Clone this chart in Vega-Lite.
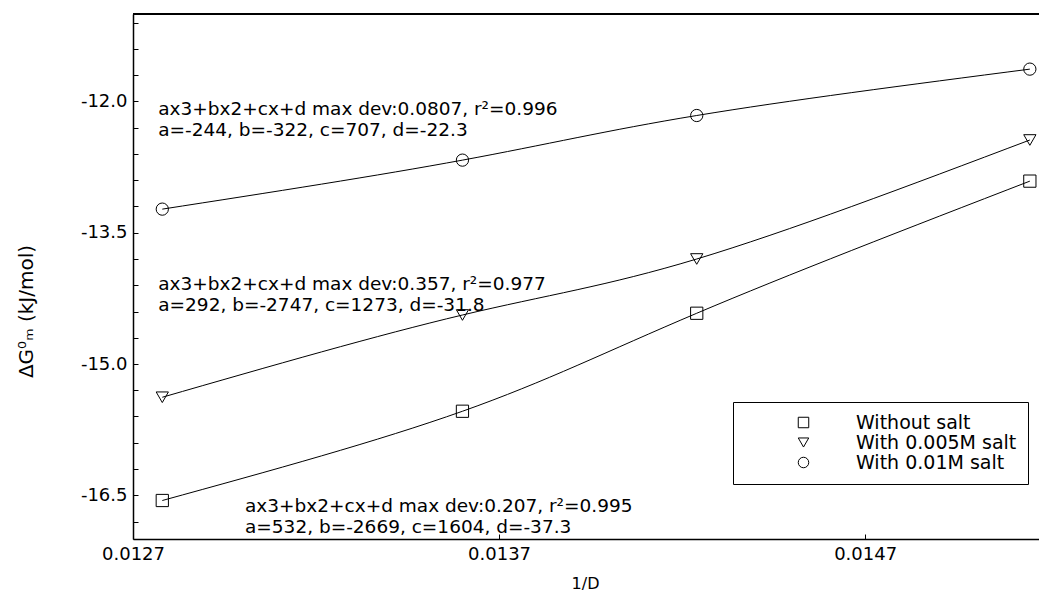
{
  "$schema": "https://vega.github.io/schema/vega-lite/v6.json",
  "width": 906,
  "height": 525,
  "autosize": "none",
  "padding": {"left": 133, "top": 14, "right": 0, "bottom": 60},
  "background": "white",
  "config": {
    "font": "DejaVu Sans",
    "view": {"stroke": null},
    "axis": {"grid": false, "labelOverlap": false, "domainColor": "black", "domainWidth": 1.5, "tickColor": "black", "tickWidth": 1, "labelColor": "black", "titleColor": "black", "labelFont": "DejaVu Sans", "titleFont": "DejaVu Sans", "titleFontWeight": "normal"}
  },
  "resolve": {"axis": {"y": "independent"}},
  "datasets": {
    "pts": [
      {"x": 0.01278, "y": -16.56, "series": "Without salt"},
      {"x": 0.01360, "y": -15.54, "series": "Without salt"},
      {"x": 0.01424, "y": -14.42, "series": "Without salt"},
      {"x": 0.01515, "y": -12.91, "series": "Without salt"},
      {"x": 0.01278, "y": -15.38, "series": "With 0.005M salt"},
      {"x": 0.01360, "y": -14.44, "series": "With 0.005M salt"},
      {"x": 0.01424, "y": -13.80, "series": "With 0.005M salt"},
      {"x": 0.01515, "y": -12.44, "series": "With 0.005M salt"},
      {"x": 0.01278, "y": -13.23, "series": "With 0.01M salt"},
      {"x": 0.01360, "y": -12.67, "series": "With 0.01M salt"},
      {"x": 0.01424, "y": -12.16, "series": "With 0.01M salt"},
      {"x": 0.01515, "y": -11.63, "series": "With 0.01M salt"}
    ],
    "notes": [
      {"x": 0.012769, "y": -12.09, "label": "ax3+bx2+cx+d max dev:0.0807, r²=0.996"},
      {"x": 0.012769, "y": -12.33, "label": "a=-244, b=-322, c=707, d=-22.3"},
      {"x": 0.012769, "y": -14.085, "label": "ax3+bx2+cx+d max dev:0.357, r²=0.977"},
      {"x": 0.012769, "y": -14.325, "label": "a=292, b=-2747, c=1273, d=-31.8"},
      {"x": 0.013006, "y": -16.62, "label": "ax3+bx2+cx+d max dev:0.207, r²=0.995"},
      {"x": 0.013006, "y": -16.86, "label": "a=532, b=-2669, c=1604, d=-37.3"}
    ]
  },
  "layer": [
    {
      "data": {"name": "pts"},
      "mark": {"type": "rule", "color": "black", "strokeWidth": 1.5},
      "encoding": {"y": {"datum": -11, "type": "quantitative", "scale": {"domain": [-17, -11], "nice": false, "zero": false},
        "axis": {"orient": "left", "values": [-16.8, -16.2, -15.9, -15.6, -15.3, -14.7, -14.4, -14.1, -13.8, -13.2, -12.9, -12.6, -12.3, -11.7, -11.4, -11.1], "labels": false, "domain": false, "title": null, "tickSize": -5}}}
    },
    {
      "data": {"name": "pts"},
      "mark": {"type": "line", "interpolate": "natural", "color": "black", "strokeWidth": 1},
      "encoding": {
        "x": {"field": "x", "type": "quantitative", "scale": {"domain": [0.0127, 0.015175], "nice": false, "zero": false},
          "axis": {"values": [0.0127, 0.0137, 0.0147], "format": ".4f", "tickSize": -5, "labelPadding": 11, "labelFontSize": 18, "labelFlush": false, "labelOverlap": false, "title": "1/D", "titleFontSize": 16, "titleX": 452, "titleY": 44, "titleBaseline": "middle", "titleAnchor": null}},
        "y": {"field": "y", "type": "quantitative",
          "axis": {"orient": "left", "values": [-16.5, -15.0, -13.5, -12.0],
            "labelExpr": "'-' + format(abs(datum.value), '.1f')",
            "labelOverlap": false, "labelFlush": false,
            "tickSize": -5, "labelPadding": 11, "labelFontSize": 18,
            "title": "ΔG⁰ₘ (kJ/mol)", "titleFontSize": 20, "titleX": -107, "titleY": 297, "titleAngle": -90, "titleAlign": "center", "titleBaseline": "middle"}},
        "detail": {"field": "series"}
      }
    },
    {
      "data": {"name": "pts"},
      "mark": {"type": "point", "filled": false, "color": "black", "strokeWidth": 1, "size": 150, "opacity": 1},
      "encoding": {
        "x": {"field": "x", "type": "quantitative"},
        "y": {"field": "y", "type": "quantitative", "axis": null},
        "shape": {"field": "series", "type": "nominal",
          "scale": {"domain": ["Without salt", "With 0.005M salt", "With 0.01M salt"], "range": ["square", "triangle-down", "circle"]},
          "legend": {"title": null, "orient": "none", "legendX": 600, "legendY": 388, "strokeColor": "black", "fillColor": "white", "padding": 11, "symbolOffset": 50, "labelOffset": 43, "labelFontSize": 19, "labelLimit": 400, "labelFont": "DejaVu Sans", "labelColor": "black", "rowPadding": 0, "symbolSize": 110, "symbolStrokeColor": "black", "symbolStrokeWidth": 1, "symbolFillColor": "transparent", "symbolType": "circle"}
        }
      }
    },
    {
      "data": {"name": "notes"},
      "mark": {"type": "text", "align": "left", "baseline": "middle", "fontSize": 18.5, "font": "DejaVu Sans", "color": "black"},
      "encoding": {
        "x": {"field": "x", "type": "quantitative"},
        "y": {"field": "y", "type": "quantitative", "axis": null},
        "text": {"field": "label"}
      }
    }
  ]
}
